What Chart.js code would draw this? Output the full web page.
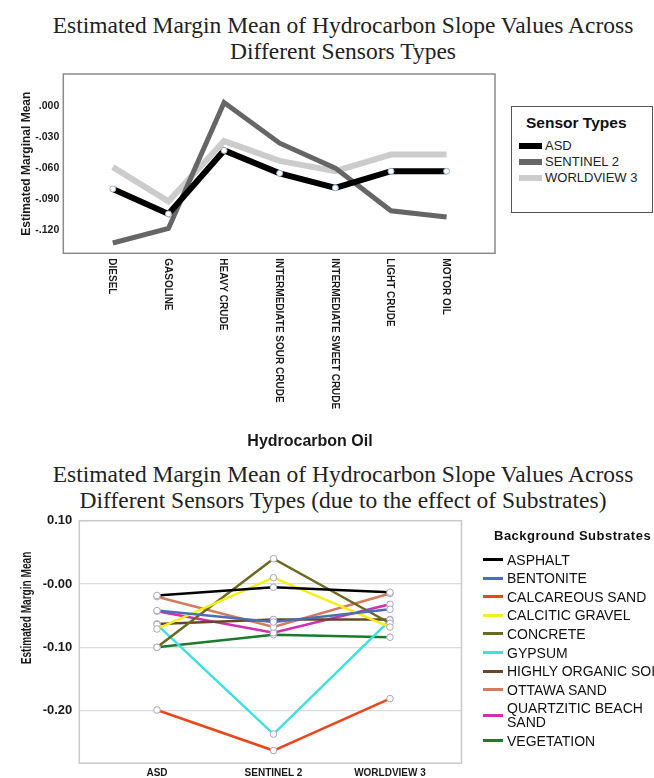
<!DOCTYPE html>
<html>
<head>
<meta charset="utf-8">
<script src="https://cdn.jsdelivr.net/npm/chart.js@4.4.1/dist/chart.umd.min.js"></script>
<style>
  html, body { margin: 0; padding: 0; background: #fff; }
  body { width: 654px; height: 778px; position: relative; overflow: hidden; }
  .title {
    position: absolute; left: 16px; width: 654px; text-align: center;
    font-family: "Liberation Serif", "Times New Roman", serif; font-size: 23.5px;
    line-height: 26px; color: #222; white-space: nowrap;
  }
  canvas { position: absolute; left: 0; }
  .abs { position: absolute; white-space: pre; color: #111; }
</style>
</head>
<body>
<div class="title" style="top:12px">Estimated Margin Mean of Hydrocarbon Slope Values Across<br>Different Sensors Types</div>
<canvas id="oilChart" width="500" height="400" style="top:60px"></canvas>
<div class="title" style="top:461px">Estimated Margin Mean of Hydrocarbon Slope Values Across<br>Different Sensors Types (due to the effect of Substrates)</div>
<canvas id="substrateChart" width="654" height="273" style="top:505px"></canvas>
<div id="legends"></div>

<script>
// ---- top chart data ----
const oils = ['DIESEL', 'GASOLINE', 'HEAVY CRUDE', 'INTERMEDIATE SOUR CRUDE',
              'INTERMEDIATE SWEET CRUDE', 'LIGHT CRUDE', 'MOTOR OIL'];
const sensorTypes = ['ASD', 'SENTINEL 2', 'WORLDVIEW 3'];
const asd        = [-0.080, -0.104, -0.043, -0.065, -0.079, -0.063, -0.063];
const sentinel2  = [-0.132, -0.118,  0.003, -0.036, -0.060, -0.101, -0.107];
const worldview3 = [-0.059, -0.092, -0.034, -0.053, -0.063, -0.047, -0.047];
const oilTicks = [0, -0.03, -0.06, -0.09, -0.12];
const oilTickLabels = ['.000', '-.030', '-.060', '-.090', '-.120'];

// ---- bottom chart data ----
const substrates = ['ASPHALT', 'BENTONITE', 'CALCAREOUS SAND', 'CALCITIC GRAVEL', 'CONCRETE',
                    'GYPSUM', 'HIGHLY ORGANIC SOIL', 'OTTAWA SAND', 'QUARTZITIC BEACH SAND', 'VEGETATION'];
const asphalt     = [-0.018, -0.005, -0.013];
const bentonite   = [-0.042, -0.060, -0.040];
const calcareous  = [-0.199, -0.263, -0.181];
const calcitic    = [-0.071,  0.010, -0.068];
const concrete    = [-0.100,  0.040, -0.062];
const gypsum      = [-0.064, -0.237, -0.057];
const organicSoil = [-0.063, -0.056, -0.056];
const ottawa      = [-0.020, -0.068, -0.015];
const quartzitic  = [-0.043, -0.077, -0.032];
const vegetation  = [-0.100, -0.080, -0.084];
const substrateTicks = [0.1, 0, -0.1, -0.2];
const substrateTickLabels = ['0.10', '-0.00', '-0.10', '-0.20'];

const sensorColors = ['#000000', '#666666', '#cccccc'];
const substrateColors = ['#000000', '#4a6fb5', '#e8471c', '#f4ee1a', '#6b6b1e',
                         '#3ee0e2', '#6b4526', '#d47a5e', '#d12eb2', '#1d7a2c'];

const SANS = '"Liberation Sans", Arial, sans-serif';

function pts(arr) { return arr.map((v, i) => ({ x: i, y: v })); }

const framePlugin = {
  id: 'frame',
  beforeDatasetsDraw(chart, args, opts) {
    const { ctx, chartArea: a } = chart;
    ctx.save();
    ctx.strokeStyle = opts.color;
    ctx.lineWidth = opts.width;
    ctx.strokeRect(a.left, a.top, a.right - a.left, a.bottom - a.top);
    ctx.restore();
  }
};

// rotated category labels + axis title for the oil chart
const oilLabelsPlugin = {
  id: 'oilLabels',
  afterDraw(chart) {
    const { ctx, chartArea } = chart;
    const xs = chart.scales.x;
    ctx.save();
    ctx.fillStyle = '#1a1a1a';
    ctx.font = 'bold 10px ' + SANS;
    ctx.textAlign = 'left';
    ctx.textBaseline = 'middle';
    oils.forEach((name, i) => {
      ctx.save();
      ctx.translate(xs.getPixelForValue(i) - 1, chartArea.bottom + 5);
      ctx.rotate(Math.PI / 2);
      ctx.fillText(name, 0, 0);
      ctx.restore();
    });
    ctx.font = 'bold 16px ' + SANS;
    ctx.textAlign = 'center';
    ctx.fillText('Hydrocarbon Oil', 310, 382);
    ctx.restore();
  }
};

// narrow-looking y title of the substrate chart
const substrateTitlePlugin = {
  id: 'substrateTitle',
  afterDraw(chart) {
    const ctx = chart.ctx;
    ctx.save();
    ctx.translate(27, 103);
    ctx.rotate(-Math.PI / 2);
    ctx.scale(0.72, 1);
    ctx.font = 'bold 14px ' + SANS;
    ctx.fillStyle = '#1a1a1a';
    ctx.textAlign = 'center';
    ctx.textBaseline = 'middle';
    ctx.fillText('Estimated Margin Mean', 0, 0);
    ctx.restore();
  }
};

new Chart(document.getElementById('oilChart'), {
  type: 'line',
  data: {
    datasets: [asd, sentinel2, worldview3].map((arr, k) => ({
      label: sensorTypes[k],
      data: pts(arr),
      borderColor: sensorColors[k],
      borderWidth: k === 1 ? 5 : 6,
      pointRadius: k === 0 ? 3 : 0,
      pointBackgroundColor: '#ffffff',
      pointBorderColor: '#9fb0c0',
      pointBorderWidth: 1,
      tension: 0
    }))
  },
  options: {
    responsive: false,
    animation: false,
    devicePixelRatio: 1,
    layout: { padding: { top: 14, right: 2, left: 0, bottom: 0 } },
    plugins: {
      legend: { display: false },
      tooltip: { enabled: false },
      frame: { color: '#8a8a8a', width: 1.5 }
    },
    scales: {
      x: {
        type: 'linear', min: -0.89, max: 6.87,
        grid: { display: false }, border: { display: false },
        ticks: { display: false },
        afterFit(s) { s.height = 206.7; }
      },
      y: {
        min: -0.1419, max: 0.0305,
        grid: { display: false, drawTicks: false }, border: { display: false },
        afterBuildTicks(s) { s.ticks = oilTicks.map(v => ({ value: v })); },
        afterFit(s) { s.width = 63.3; },
        ticks: {
          autoSkip: false, padding: 4, color: '#1a1a1a',
          font: { family: SANS, size: 10.5, weight: 'bold' },
          callback: (v, i) => oilTickLabels[i]
        },
        title: {
          display: true, text: 'Estimated Marginal Mean', color: '#1a1a1a',
          font: { family: SANS, size: 12, weight: 'bold' },
          padding: { top: 19, bottom: 0 }
        }
      }
    }
  },
  plugins: [framePlugin, oilLabelsPlugin]
});

const substrateSeries = [asphalt, bentonite, calcareous, calcitic, concrete,
                         gypsum, organicSoil, ottawa, quartzitic, vegetation];

new Chart(document.getElementById('substrateChart'), {
  type: 'line',
  data: {
    datasets: substrateSeries.map((arr, k) => ({
      label: substrates[k],
      data: pts(arr),
      borderColor: substrateColors[k],
      borderWidth: 2.5,
      pointRadius: 3.3,
      pointBackgroundColor: '#ffffff',
      pointBorderColor: '#a9a6bd',
      pointBorderWidth: 1,
      tension: 0
    }))
  },
  options: {
    responsive: false,
    animation: false,
    devicePixelRatio: 1,
    layout: { padding: { top: 15.7, right: 192.5, left: 0, bottom: 0 } },
    plugins: {
      legend: { display: false },
      tooltip: { enabled: false },
      frame: { color: '#c9c9c9', width: 1.5 }
    },
    scales: {
      x: {
        type: 'linear', min: -0.667, max: 2.614,
        grid: { display: false, drawTicks: false }, border: { display: false },
        afterBuildTicks(s) { s.ticks = sensorTypes.map((n, i) => ({ value: i })); },
        afterFit(s) { s.height = 14.7; },
        ticks: {
          autoSkip: false, padding: 4, maxRotation: 0, color: '#1a1a1a',
          font: { family: SANS, size: 10, weight: 'bold' },
          callback: (v) => sensorTypes[v]
        }
      },
      y: {
        min: -0.283, max: 0.1,
        grid: { color: '#dcdcdc', lineWidth: 1.3, drawTicks: false },
        border: { display: false },
        afterBuildTicks(s) { s.ticks = substrateTicks.map(v => ({ value: v })); },
        afterFit(s) { s.width = 79.3; },
        ticks: {
          autoSkip: false, padding: 7, color: '#1a1a1a',
          font: { family: SANS, size: 13, weight: 'bold' },
          callback: (v, i) => substrateTickLabels[i]
        }
      }
    }
  },
  plugins: [framePlugin, substrateTitlePlugin]
});

// ---- HTML legends built from the same arrays ----
const lg = document.getElementById('legends');
function add(html, style) {
  const d = document.createElement('div');
  d.className = 'abs';
  d.style.cssText = style;
  d.innerHTML = html;
  lg.appendChild(d);
  return d;
}
add('', 'left:511px;top:106px;width:140px;height:105px;border:1.5px solid #555;');
add('Sensor Types', 'left:526px;top:113px;font:bold 15.5px ' + SANS + ';line-height:19px;');
sensorTypes.forEach((name, i) => {
  const cy = 146 + i * 16.2;
  add('', 'left:519px;top:' + (cy - 3) + 'px;width:23px;height:6px;background:' + sensorColors[i] + ';');
  add(name, 'left:545px;top:' + (cy - 8) + 'px;font:13px ' + SANS + ';line-height:16px;color:#222;');
});

add('Background Substrates', 'left:494px;top:528px;font:bold 13px ' + SANS + ';line-height:16px;letter-spacing:0.5px;');
let cy = 559.5;
substrates.forEach((name, i) => {
  const text = name.replace('BEACH ', 'BEACH\n');
  const lines = text.split('\n').length;
  if (lines > 1) cy += 7;
  add('', 'left:483px;top:' + (cy - 1.5) + 'px;width:20px;height:3px;background:' + substrateColors[i] + ';');
  add(text, 'left:507px;top:' + (cy - lines * 7) + 'px;font:14px ' + SANS + ';line-height:14px;');
  cy += lines > 1 ? 25.5 : 18.6;
});
</script>
</body>
</html>
